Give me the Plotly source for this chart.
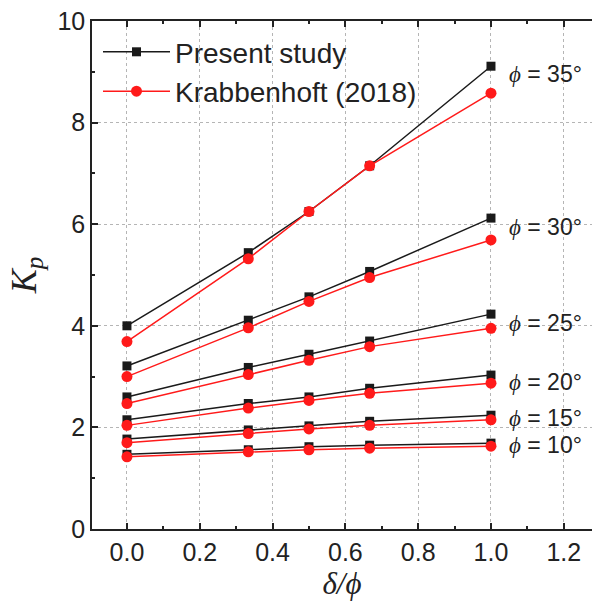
import plotly.graph_objects as go

delta_ratio = [0.0, 1/3, 0.5, 2/3, 1.0]
phi_labels = ["35", "30", "25", "20", "15", "10"]

present = {
    "35": [4.00, 5.44, 6.25, 7.15, 9.11],
    "30": [3.21, 4.11, 4.57, 5.07, 6.12],
    "25": [2.60, 3.18, 3.44, 3.70, 4.23],
    "20": [2.15, 2.47, 2.60, 2.77, 3.03],
    "15": [1.77, 1.95, 2.03, 2.12, 2.24],
    "10": [1.47, 1.56, 1.62, 1.65, 1.69],
}
krabbenhoft = {
    "35": [3.69, 5.32, 6.25, 7.15, 8.58],
    "30": [3.00, 3.96, 4.48, 4.95, 5.69],
    "25": [2.47, 3.04, 3.32, 3.59, 3.95],
    "20": [2.04, 2.38, 2.53, 2.67, 2.87],
    "15": [1.70, 1.88, 1.97, 2.04, 2.15],
    "10": [1.42, 1.52, 1.56, 1.59, 1.63],
}
label_y = {"35": 8.95, "30": 5.95, "25": 4.05, "20": 2.9, "15": 2.18, "10": 1.65}

x_ticks = [0.0, 0.2, 0.4, 0.6, 0.8, 1.0, 1.2]
y_ticks = [0, 2, 4, 6, 8, 10]

fig = go.Figure()
for i, p in enumerate(phi_labels):
    fig.add_trace(go.Scatter(
        x=delta_ratio, y=present[p], mode="lines+markers",
        line=dict(color="#1a1a1a", width=1.5),
        marker=dict(symbol="square", size=9, color="#1a1a1a"),
        name="Present study", legendgroup="a", showlegend=(i == 0)))
for i, p in enumerate(phi_labels):
    fig.add_trace(go.Scatter(
        x=delta_ratio, y=krabbenhoft[p], mode="lines+markers",
        line=dict(color="#ff1a1a", width=1.5),
        marker=dict(symbol="circle", size=11, color="#ff1a1a"),
        name="Krabbenhoft (2018)", legendgroup="b", showlegend=(i == 0)))

for p in phi_labels:
    fig.add_annotation(
        x=1.045, y=label_y[p], xref="x", yref="y", xanchor="left", yanchor="middle",
        text=f"<span style='font-family:Liberation Serif'><i>ϕ</i></span> = {p}°",
        showarrow=False, font=dict(family="Liberation Sans, Arial", size=23, color="#222"))

axis_common = dict(
    showline=True, linecolor="#222", linewidth=1.5, ticks="inside", ticklen=6,
    tickwidth=1.5, tickcolor="#222", showgrid=True, gridcolor="#b5b5b5",
    griddash="3px,3px", gridwidth=1, zeroline=False,
    tickfont=dict(family="Liberation Sans, Arial", size=25, color="#222"),
)

fig.update_xaxes(
    **axis_common, range=[-0.096, 1.2775], tickvals=x_ticks,
    ticktext=[f"{v:.1f}" for v in x_ticks], mirror="ticks",
    minor=dict(ticks="inside", ticklen=3, tickwidth=1.5, tickcolor="#222", dtick=0.1, showgrid=False),
    title=dict(text="<i>δ/ϕ</i>", font=dict(family="Liberation Serif", size=31, color="#222"), standoff=4),
)
fig.update_yaxes(
    **axis_common, range=[0, 10], tickvals=y_ticks, ticktext=[str(v) for v in y_ticks],
    mirror=False,
    minor=dict(ticks="inside", ticklen=3, tickwidth=1.5, tickcolor="#222", dtick=1, showgrid=False),
    title=dict(text="<i>K<sub>p</sub></i>", font=dict(family="Liberation Serif", size=36, color="#222"), standoff=10),
)

fig.update_layout(
    width=592, height=606,
    margin=dict(l=92, r=0, t=21, b=77),
    plot_bgcolor="white", paper_bgcolor="white",
    showlegend=True,
    legend=dict(x=0.012, y=0.988, xanchor="left", yanchor="top", bgcolor="rgba(0,0,0,0)",
                font=dict(family="Liberation Sans, Arial", size=28, color="#222"),
                itemwidth=67, tracegroupgap=0),
)

fig.write_html("out.html")
